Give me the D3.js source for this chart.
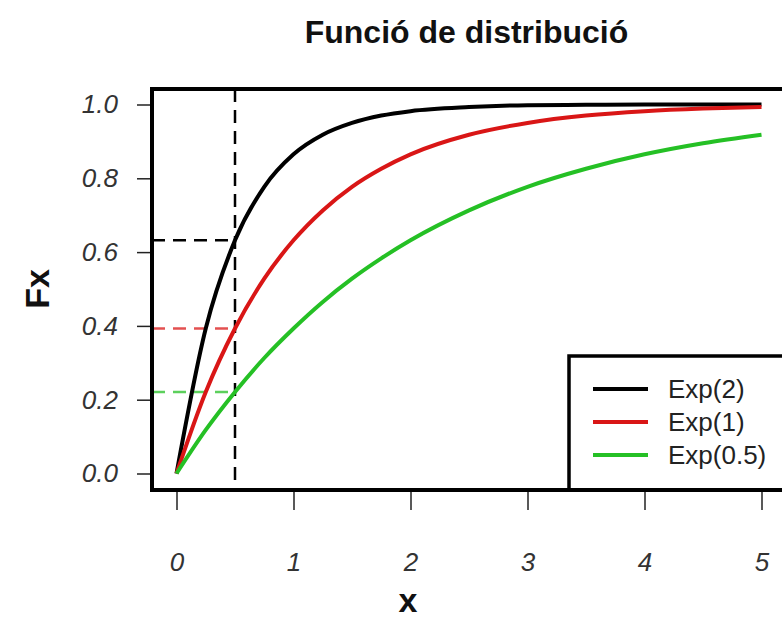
<!DOCTYPE html>
<html>
<head>
<meta charset="utf-8">
<script src="https://cdn.jsdelivr.net/npm/d3@7"></script>
<style>
  body { margin: 0; background: #fff; }
  text { font-family: "Liberation Sans", Arial, sans-serif; }
</style>
</head>
<body>
<div id="chart"></div>
<script>
// values
const xs = [0, 0.25, 0.5, 0.75, 1, 1.25, 1.5, 1.75, 2, 2.5, 3, 3.5, 4, 4.5, 5];
const exp2 = [0, 0.393, 0.632, 0.777, 0.865, 0.918, 0.950, 0.970, 0.982, 0.993, 0.998, 0.999, 1.0, 1.0, 1.0];
const exp1 = [0, 0.221, 0.393, 0.528, 0.632, 0.713, 0.777, 0.826, 0.865, 0.918, 0.950, 0.970, 0.982, 0.989, 0.993];
const exp05 = [0, 0.118, 0.221, 0.313, 0.393, 0.465, 0.528, 0.583, 0.632, 0.713, 0.777, 0.826, 0.865, 0.895, 0.918];

const seriesNames = ["Exp(2)", "Exp(1)", "Exp(0.5)"];
const seriesColors = ["#000000", "#d91616", "#25c025"];
const seriesValues = [exp2, exp1, exp05];

// reference marks at x = 0.5
const markX = 0.5;
const markY = [0.632, 0.393, 0.221];

const xTicks = [0, 1, 2, 3, 4, 5];
const yTicks = [0, 0.2, 0.4, 0.6, 0.8, 1.0];

const svg = d3.select("#chart")
    .append("svg")
    .attr("width", 782)
    .attr("height", 619);

// plot box
const box = {left: 152, top: 89, right: 781, bottom: 490};

const xScale = d3.scaleLinear().domain([0, 5]).range([176.5, 761.5]);
const yScale = d3.scaleLinear().domain([0, 1]).range([473.5, 104.5]);

// title
svg.append("text")
    .attr("x", (box.left + box.right) / 2)
    .attr("y", 43)
    .attr("text-anchor", "middle")
    .attr("font-weight", "bold")
    .attr("font-size", 32)
    .attr("fill", "#111")
    .text("Funció de distribució");

// axes
const xAxis = svg.append("g")
    .attr("transform", `translate(0,${box.bottom})`)
    .call(d3.axisBottom(xScale).tickValues(xTicks).tickSize(20).tickPadding(43).tickFormat(d3.format("d")));

const yAxis = svg.append("g")
    .attr("transform", `translate(${box.left},0)`)
    .call(d3.axisLeft(yScale).tickValues(yTicks).tickSize(15).tickPadding(19).tickFormat(d3.format(".1f")));

[xAxis, yAxis].forEach(a => {
    a.select(".domain").remove();
    a.selectAll(".tick line").attr("stroke", "#222").attr("stroke-width", 1.5);
    a.selectAll(".tick text")
        .attr("font-family", "Liberation Sans, Arial, sans-serif")
        .attr("font-size", 26)
        .attr("font-style", "italic")
        .attr("fill", "#333");
});

// axis labels
svg.append("text")
    .attr("x", 408)
    .attr("y", 612)
    .attr("text-anchor", "middle")
    .attr("font-weight", "bold")
    .attr("font-size", 34)
    .attr("fill", "#111")
    .text("x");

svg.append("text")
    .attr("transform", `translate(49,${yScale(0.5)}) rotate(-90)`)
    .attr("text-anchor", "middle")
    .attr("font-weight", "bold")
    .attr("font-size", 34)
    .attr("fill", "#111")
    .text("Fx");

// dashed guides
svg.append("line")
    .attr("x1", xScale(markX)).attr("x2", xScale(markX))
    .attr("y1", box.top).attr("y2", box.bottom)
    .attr("stroke", "#000").attr("stroke-width", 2.5)
    .attr("stroke-dasharray", "13,8");

markY.forEach((v, i) => {
    svg.append("line")
        .attr("x1", box.left).attr("x2", xScale(markX))
        .attr("y1", yScale(v)).attr("y2", yScale(v))
        .attr("stroke", seriesColors[i])
        .attr("stroke-opacity", i === 0 ? 1 : 0.75)
        .attr("stroke-width", 2.5)
        .attr("stroke-dasharray", "13,8");
});

// curves
const line = d3.line()
    .x(d => xScale(d[0]))
    .y(d => yScale(d[1]))
    .curve(d3.curveMonotoneX);

seriesValues.forEach((vals, i) => {
    svg.append("path")
        .datum(xs.map((x, j) => [x, vals[j]]))
        .attr("fill", "none")
        .attr("stroke", seriesColors[i])
        .attr("stroke-width", 4)
        .attr("d", line);
});

// legend
const legend = svg.append("g");
legend.append("rect")
    .attr("x", 569).attr("y", 356)
    .attr("width", 230).attr("height", box.bottom - 356)
    .attr("fill", "#fff")
    .attr("stroke", "#000").attr("stroke-width", 3.5);

seriesNames.forEach((name, i) => {
    const y = 389 + i * 33;
    legend.append("line")
        .attr("x1", 593).attr("x2", 648)
        .attr("y1", y).attr("y2", y)
        .attr("stroke", seriesColors[i])
        .attr("stroke-width", 4);
    legend.append("text")
        .attr("x", 668).attr("y", y + 9)
        .attr("font-size", 26)
        .attr("fill", "#222")
        .text(name);
});

// plot box on top
svg.append("rect")
    .attr("x", box.left).attr("y", box.top)
    .attr("width", box.right - box.left + 10).attr("height", box.bottom - box.top)
    .attr("fill", "none")
    .attr("stroke", "#000").attr("stroke-width", 4);
</script>
</body>
</html>
